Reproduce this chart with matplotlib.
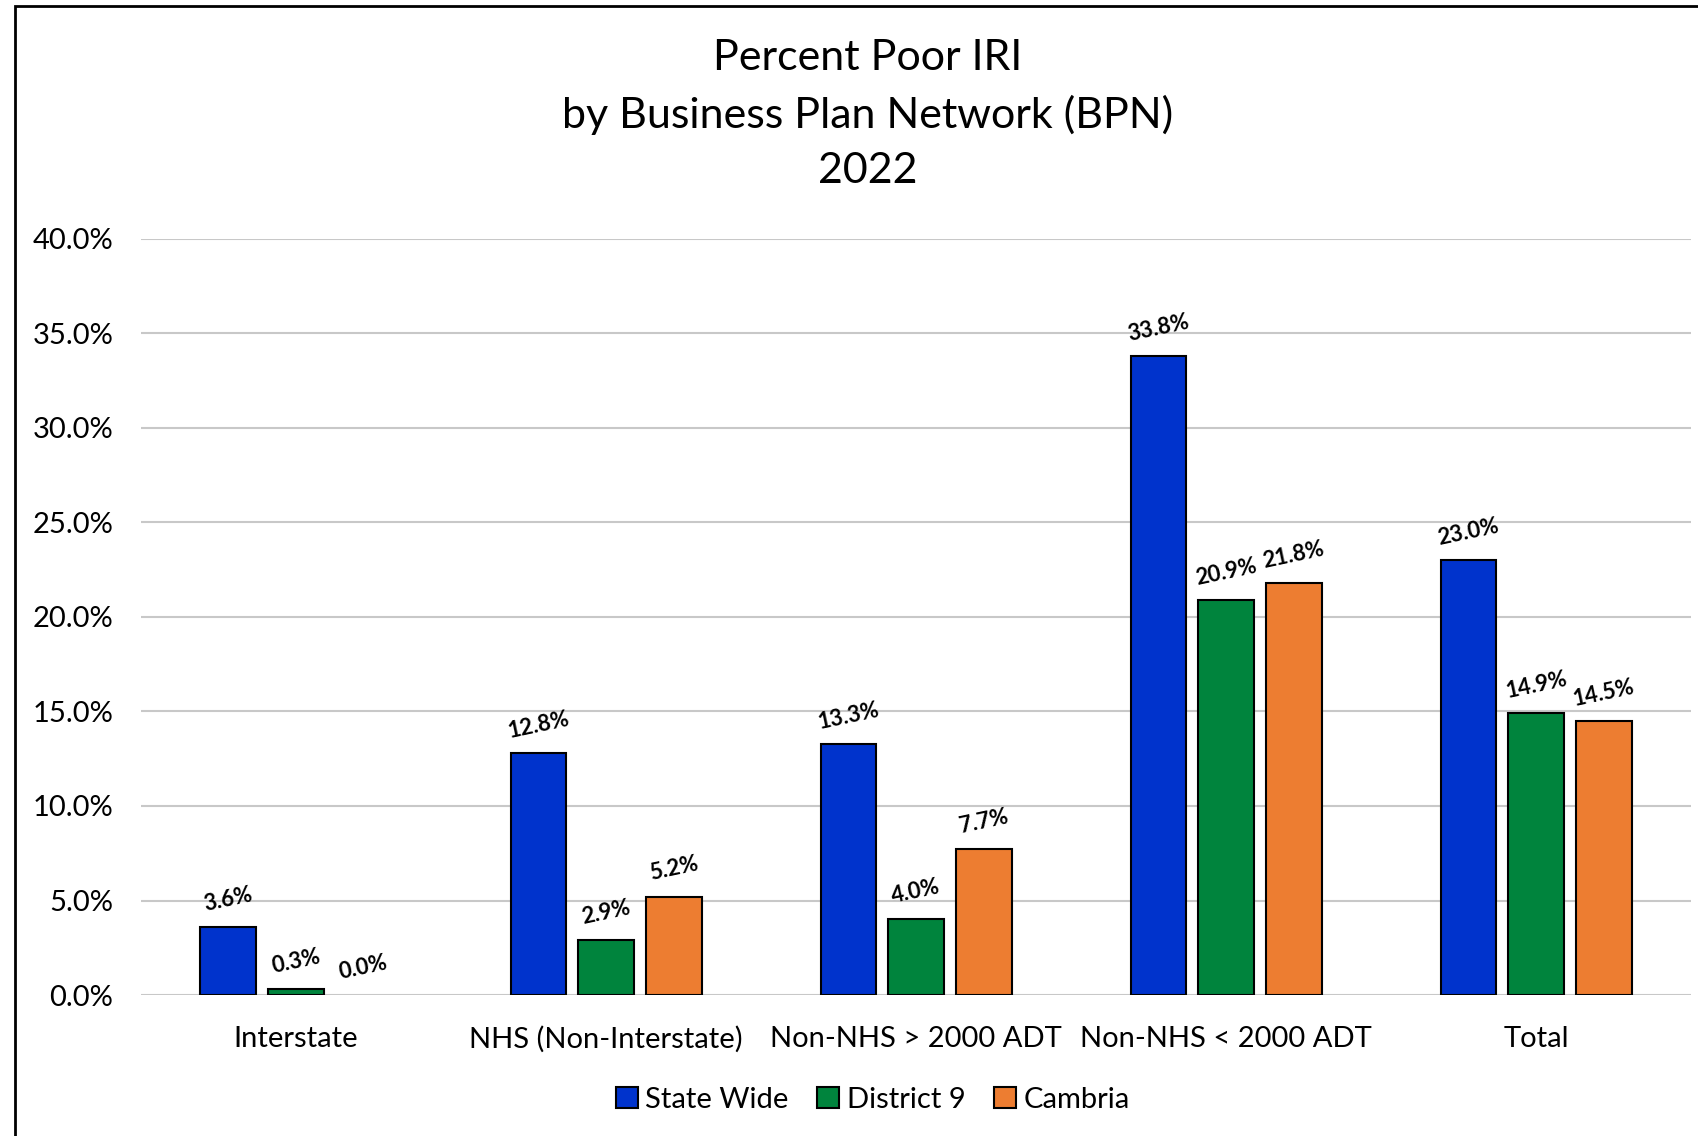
import matplotlib.pyplot as plt
import matplotlib.patches as mpatches
import numpy as np

categorias = ['Interstate', 'NHS (Non-Interstate)', 'Non-NHS > 2000 ADT',
              'Non-NHS < 2000 ADT', 'Total']
state_wide = [3.6, 12.8, 13.3, 33.8, 23.0]
district_9 = [0.3, 2.9, 4.0, 20.9, 14.9]
cambria = [0.0, 5.2, 7.7, 21.8, 14.5]
series_names = ['State Wide', 'District 9', 'Cambria']
cores = ['#0033CC', '#00843D', '#ED7D31']
yticks = [0, 5, 10, 15, 20, 25, 30, 35, 40]

plt.rcParams['font.family'] = ['Lato', 'DejaVu Sans']

fig = plt.figure(figsize=(16.98, 11.36), dpi=100)
ax = fig.add_axes([0.083, 0.124, 0.913, 0.666])

x = np.arange(len(categorias))
largura = 0.18
desloc = 0.218
for i, (vals, nome, cor) in enumerate(zip([state_wide, district_9, cambria], series_names, cores)):
    pos = x + (i - 1) * desloc
    barras = ax.bar(pos, vals, largura, color=cor, edgecolor='black', linewidth=1.5,
                    zorder=3)
    for b, p, v in zip(barras, pos, vals):
        # barra de altura zero nao aparece no original
        if v == 0:
            b.set_linewidth(0)
        ax.annotate(f'{v:.1f}%', (p, v), xytext=(0, 20), textcoords='offset points',
                    ha='center', va='center', rotation=12, fontsize=16,
                    fontweight='bold', zorder=4)

ax.set_xlim(-0.5, len(categorias) - 0.5)
ax.set_ylim(0, 40)
ax.set_yticks(yticks)
ax.set_yticklabels([f'{t:.1f}%' for t in yticks])
ax.set_xticks(x)
ax.set_xticklabels(categorias)
ax.grid(axis='y', color='#C8C8C8', linewidth=1.5, zorder=0)
for s in ax.spines.values():
    s.set_visible(False)
ax.tick_params(axis='both', length=0, labelsize=21)
ax.tick_params(axis='y', pad=20)
ax.tick_params(axis='x', pad=22)

fig.text(0.511, 0.899, 'Percent Poor IRI\nby Business Plan Network (BPN)\n2022',
         ha='center', va='center', fontsize=31, linespacing=1.55)

handles = [mpatches.Patch(facecolor=c, edgecolor='black', linewidth=1.5, label=n)
           for c, n in zip(cores, series_names)]
ax.legend(handles=handles, loc='center', bbox_to_anchor=(0.514, 0.032),
          bbox_transform=fig.transFigure, ncol=3, frameon=False, fontsize=21,
          handlelength=0.75, handleheight=0.75, handletextpad=0.25, columnspacing=1.0)

borda = mpatches.Rectangle((0.009, -0.1), 1.2, 1.095, transform=fig.transFigure,
                           fill=False, edgecolor='black', linewidth=2, clip_on=False)
fig.patches.append(borda)

plt.savefig('out.png', dpi=100)
